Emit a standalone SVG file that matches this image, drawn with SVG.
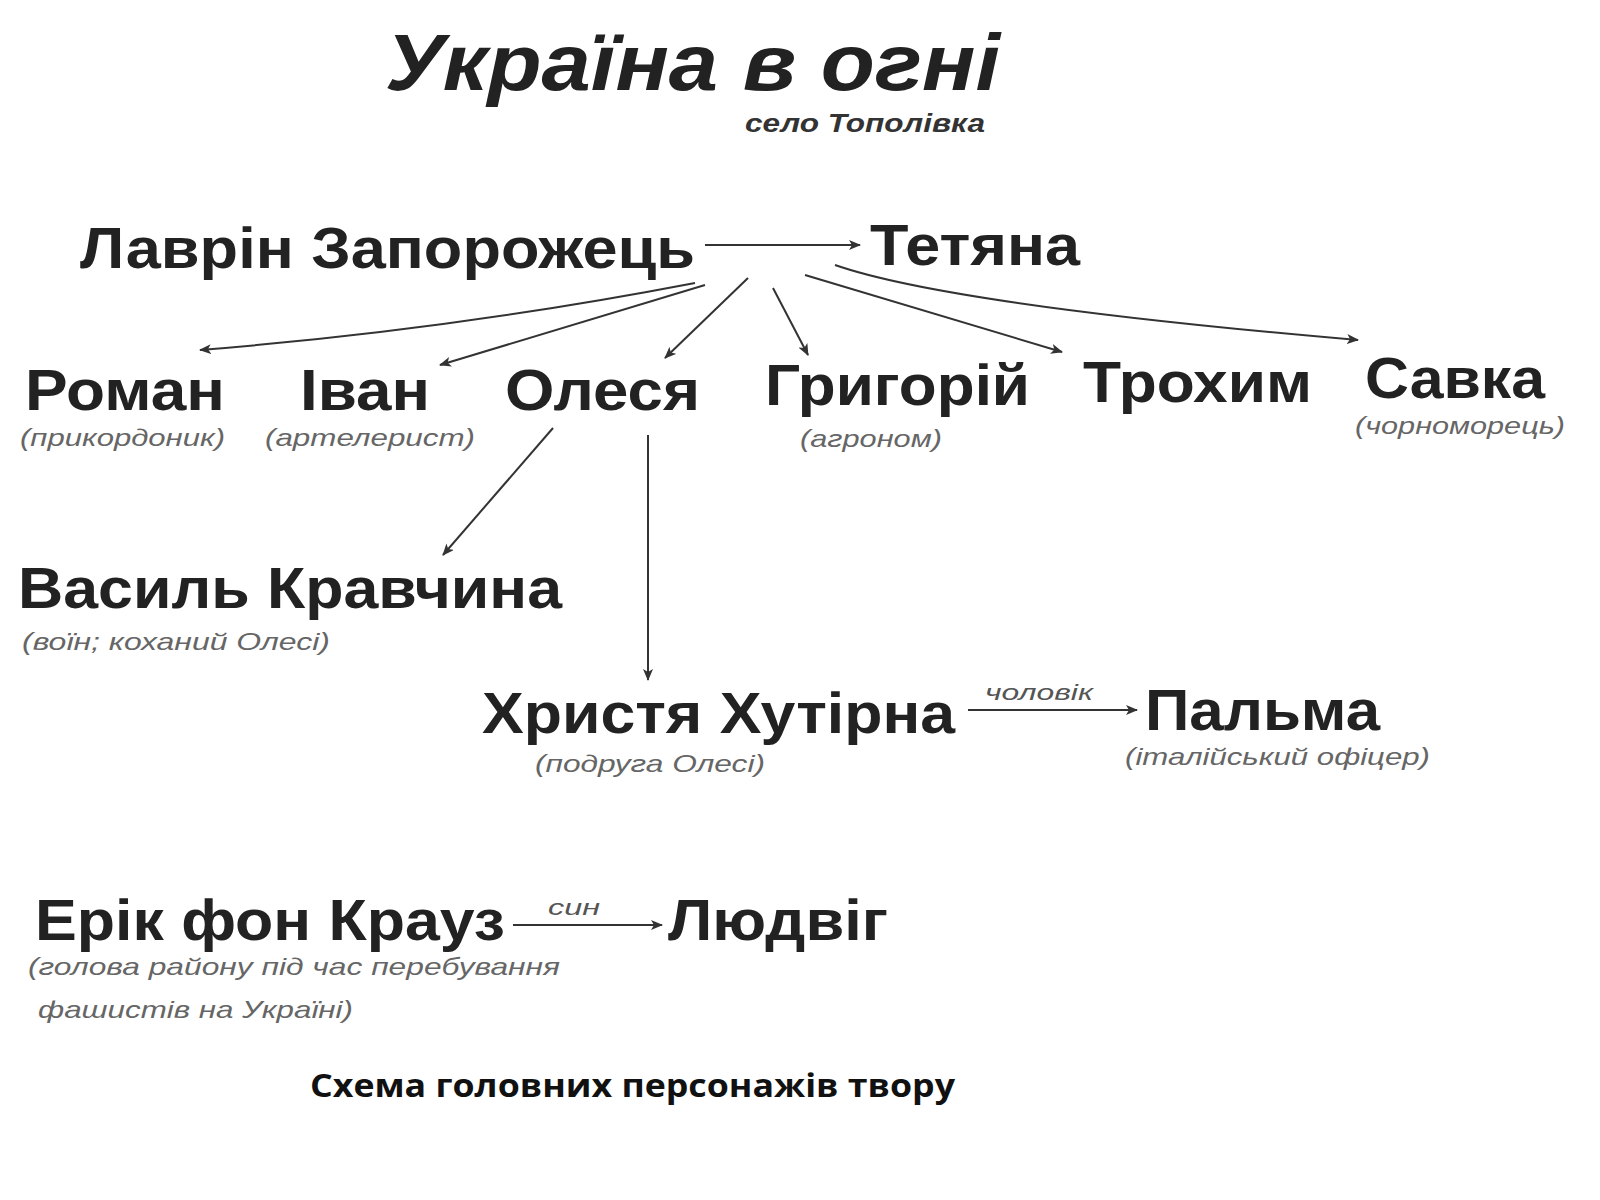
<svg xmlns="http://www.w3.org/2000/svg" width="1600" height="1200" viewBox="0 0 1600 1200">
<defs>
<marker id="ah" markerWidth="12" markerHeight="10" refX="11" refY="5" orient="auto" markerUnits="userSpaceOnUse"><path d="M0,0 L12,5 L0,10 L3,5 Z" fill="#333"/></marker>
<style>
.n{font-family:"Liberation Sans",Arial,sans-serif;font-weight:bold;font-size:58px;fill:#222}
.s{font-family:"Liberation Sans",Arial,sans-serif;font-style:italic;font-size:24px;fill:#666}
.l{font-family:"Liberation Sans",Arial,sans-serif;font-style:italic;font-size:22px;fill:#555}
.c{stroke:#333;stroke-width:2;fill:none;marker-end:url(#ah)}
</style>
</defs>
<rect width="1600" height="1200" fill="#fff"/>
<g id="title">
<text x="385" y="90" font-family="Liberation Sans,Arial,sans-serif" font-weight="bold" font-style="italic" font-size="80" fill="#222" textLength="615" lengthAdjust="spacingAndGlyphs">Україна в огні</text>
<text x="745" y="132" font-family="Liberation Sans,Arial,sans-serif" font-weight="bold" font-style="italic" font-size="26" fill="#333" textLength="240" lengthAdjust="spacingAndGlyphs">село Тополівка</text>
</g>
<g id="connectors">
<line class="c" x1="705" y1="245" x2="860" y2="245"/>
<path class="c" d="M695,283 Q450,330 200,350"/>
<line class="c" x1="705" y1="285" x2="440" y2="365"/>
<line class="c" x1="748" y1="278" x2="665" y2="358"/>
<line class="c" x1="773" y1="288" x2="808" y2="355"/>
<line class="c" x1="805" y1="275" x2="1062" y2="352"/>
<path class="c" d="M835,265 Q950,305 1358,340"/>
<line class="c" x1="553" y1="428" x2="443" y2="555"/>
<line class="c" x1="648" y1="435" x2="648" y2="680"/>
<line class="c" x1="968" y1="710" x2="1137" y2="710"/>
<line class="c" x1="513" y1="925" x2="662" y2="925"/>
<text class="l" x="985" y="700" textLength="108" lengthAdjust="spacingAndGlyphs">чоловік</text>
<text class="l" x="548" y="915" textLength="52" lengthAdjust="spacingAndGlyphs">син</text>
</g>
<g id="lavrin"><text class="n" x="80" y="268" textLength="615" lengthAdjust="spacingAndGlyphs">Лаврін Запорожець</text></g>
<g id="tetiana"><text class="n" x="870" y="265" textLength="210" lengthAdjust="spacingAndGlyphs">Тетяна</text></g>
<g id="roman"><text class="n" x="25" y="410" textLength="200" lengthAdjust="spacingAndGlyphs">Роман</text><text class="s" x="20" y="446" textLength="205" lengthAdjust="spacingAndGlyphs">(прикордоник)</text></g>
<g id="ivan"><text class="n" x="300" y="410" textLength="130" lengthAdjust="spacingAndGlyphs">Іван</text><text class="s" x="265" y="446" textLength="210" lengthAdjust="spacingAndGlyphs">(артелерист)</text></g>
<g id="olesia"><text class="n" x="505" y="410" textLength="195" lengthAdjust="spacingAndGlyphs">Олеся</text></g>
<g id="hryhorii"><text class="n" x="765" y="405" textLength="265" lengthAdjust="spacingAndGlyphs">Григорій</text><text class="s" x="800" y="447" textLength="142" lengthAdjust="spacingAndGlyphs">(агроном)</text></g>
<g id="trokhym"><text class="n" x="1083" y="402" textLength="229" lengthAdjust="spacingAndGlyphs">Трохим</text></g>
<g id="savka"><text class="n" x="1365" y="398" textLength="180" lengthAdjust="spacingAndGlyphs">Савка</text><text class="s" x="1355" y="434" textLength="210" lengthAdjust="spacingAndGlyphs">(чорноморець)</text></g>
<g id="vasyl"><text class="n" x="18" y="608" textLength="544" lengthAdjust="spacingAndGlyphs">Василь Кравчина</text><text class="s" x="22" y="650" textLength="308" lengthAdjust="spacingAndGlyphs">(воїн; коханий Олесі)</text></g>
<g id="khrystia"><text class="n" x="482" y="733" textLength="473" lengthAdjust="spacingAndGlyphs">Христя Хутірна</text><text class="s" x="535" y="772" textLength="230" lengthAdjust="spacingAndGlyphs">(подруга Олесі)</text></g>
<g id="palma"><text class="n" x="1145" y="730" textLength="235" lengthAdjust="spacingAndGlyphs">Пальма</text><text class="s" x="1125" y="765" textLength="305" lengthAdjust="spacingAndGlyphs">(італійський офіцер)</text></g>
<g id="erik"><text class="n" x="35" y="940" textLength="470" lengthAdjust="spacingAndGlyphs">Ерік фон Крауз</text><text class="s" x="28" y="975" textLength="532" lengthAdjust="spacingAndGlyphs">(голова району під час перебування</text><text class="s" x="38" y="1018" textLength="315" lengthAdjust="spacingAndGlyphs">фашистів на Україні)</text></g>
<g id="ludvig"><text class="n" x="668" y="940" textLength="220" lengthAdjust="spacingAndGlyphs">Людвіг</text></g>
<g id="caption"><text x="310" y="1097" font-family="Open Sans,sans-serif" font-weight="bold" font-size="33" fill="#111" textLength="645" lengthAdjust="spacingAndGlyphs">Схема головних персонажів твору</text></g>
</svg>
